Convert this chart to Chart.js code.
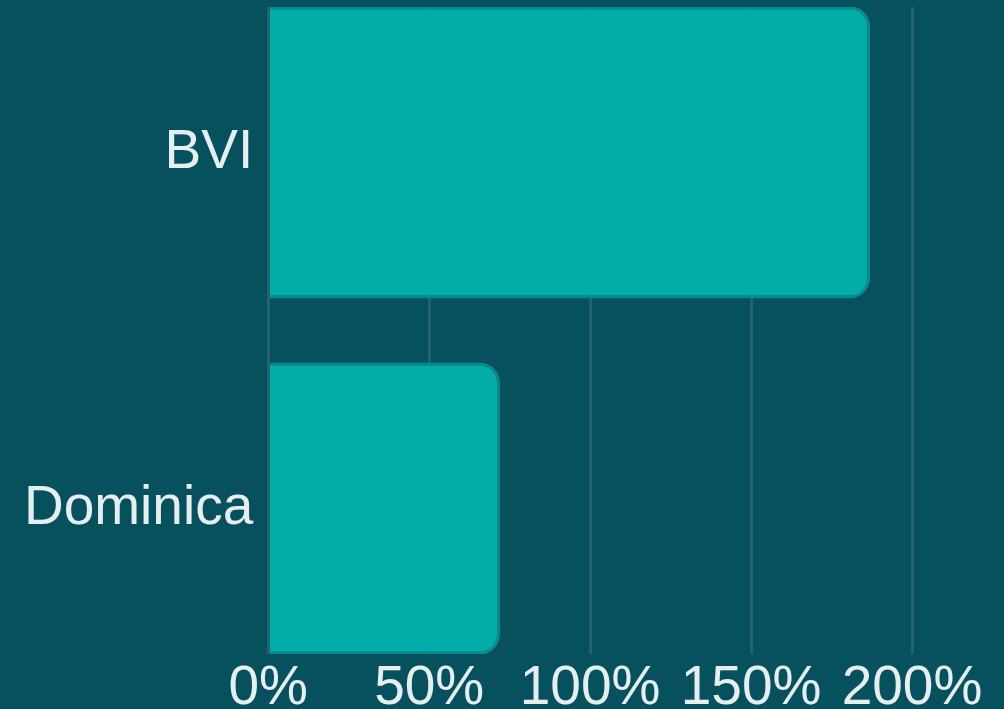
<!DOCTYPE html>
<html>
<head>
<meta charset="utf-8">
<script src="https://cdn.jsdelivr.net/npm/chart.js@4"></script>
<style>
  html, body { margin: 0; padding: 0; background: #07505d; }
  #wrap { width: 1004px; height: 709px; }
</style>
</head>
<body>
<div id="wrap"><canvas id="chart" width="1004" height="709"></canvas></div>
<script>
// données
const categories = ['BVI', 'Dominica'];
const values = [187, 72];
const xTicks = [0, 50, 100, 150, 200];

// un point par catégorie, index = position sur l'axe
const points = categories.map((c, i) => ({ x: values[i], y: i }));

const ctx = document.getElementById('chart').getContext('2d');
new Chart(ctx, {
  type: 'bar',
  data: {
    datasets: [{
      data: points,
      backgroundColor: '#02aca9',
      borderColor: '#0a8a8c',
      borderWidth: 3,
      borderSkipped: 'start',
      borderRadius: { topRight: 20, bottomRight: 20 },
      barPercentage: 0.82,
      categoryPercentage: 1
    }]
  },
  options: {
    indexAxis: 'y',
    responsive: false,
    animation: false,
    layout: { padding: { left: 17, right: 92, top: 7, bottom: -14 } },
    plugins: { legend: { display: false }, tooltip: { enabled: false } },
    scales: {
      x: {
        type: 'linear',
        min: xTicks[0],
        max: xTicks[xTicks.length - 1],
        border: { display: false },
        grid: { color: '#22636e', lineWidth: 3, drawTicks: false },
        ticks: {
          stepSize: 50,
          padding: 7,
          color: '#e6eff0',
          font: { family: 'Liberation Sans', size: 55, lineHeight: 1 },
          callback: v => v + '%'
        }
      },
      y: {
        type: 'linear',
        offset: false,
        reverse: true,
        min: -0.408,
        max: 1.408,
        border: { display: false },
        grid: { display: false },
        afterBuildTicks: axis => {
          axis.ticks = categories.map((c, i) => ({ value: i }));
        },
        afterFit: axis => { axis.paddingTop = 0; axis.paddingBottom = 0; },
        ticks: {
          padding: 7,
          color: '#e6eff0',
          font: { family: 'Liberation Sans', size: 55 },
          callback: v => categories[v] ?? ''
        }
      }
    }
  }
});
</script>
</body>
</html>
